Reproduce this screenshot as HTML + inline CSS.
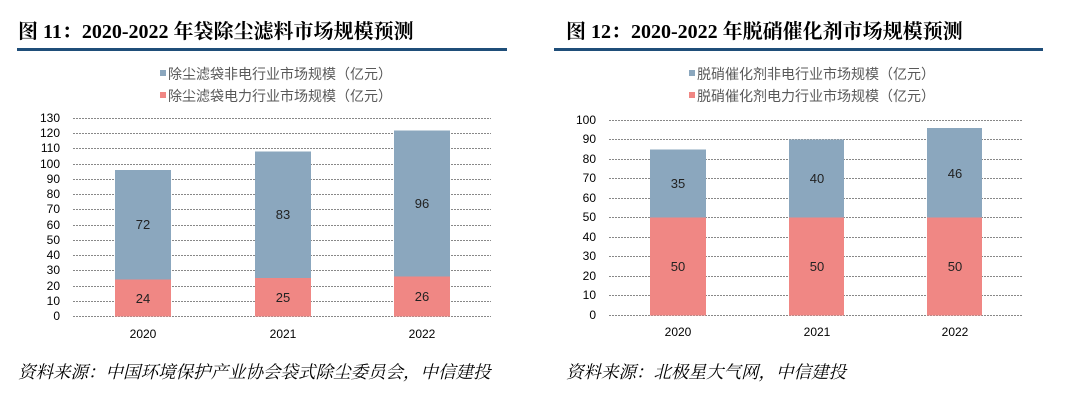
<!DOCTYPE html>
<html><head><meta charset="utf-8"><style>
body{margin:0;background:#fff;width:1080px;height:400px;overflow:hidden}
svg{display:block}
.t{font-family:"Liberation Serif","Noto Serif CJK SC",serif;font-weight:bold;font-size:20px;fill:#000}
.lg{font-family:"Liberation Sans","Noto Sans CJK SC",sans-serif;font-size:14px;fill:#595959}
.ax{font-family:"Liberation Sans","Noto Sans CJK SC",sans-serif;font-size:12px;fill:#000}
.dl{font-family:"Liberation Sans","Noto Sans CJK SC",sans-serif;font-size:13px;fill:#222}
.src{font-family:"Liberation Serif","Noto Serif CJK SC",serif;font-style:italic;font-size:17.5px;fill:#000}
.g{stroke:#888;stroke-width:1;stroke-dasharray:2,1}
</style></head><body>
<svg width="1080" height="400" xmlns="http://www.w3.org/2000/svg">
<!-- LEFT -->
<text class="t" x="18" y="38">图 11：2020-2022 年袋除尘滤料市场规模预测</text>
<rect x="17" y="48" width="490" height="3" fill="#1f4e79"/>
<rect x="160" y="70" width="6" height="6" fill="#8BA7BE"/>
<text class="lg" x="168" y="79">除尘滤袋非电行业市场规模（亿元）</text>
<rect x="160" y="92" width="6" height="6" fill="#F08784"/>
<text class="lg" x="168" y="101">除尘滤袋电力行业市场规模（亿元）</text>
<g class="g">
<line x1="73" x2="491" y1="118.5" y2="118.5"/><line x1="73" x2="491" y1="133.5" y2="133.5"/><line x1="73" x2="491" y1="148.5" y2="148.5"/><line x1="73" x2="491" y1="164.5" y2="164.5"/><line x1="73" x2="491" y1="179.5" y2="179.5"/><line x1="73" x2="491" y1="194.5" y2="194.5"/><line x1="73" x2="491" y1="209.5" y2="209.5"/><line x1="73" x2="491" y1="225.5" y2="225.5"/><line x1="73" x2="491" y1="240.5" y2="240.5"/><line x1="73" x2="491" y1="255.5" y2="255.5"/><line x1="73" x2="491" y1="270.5" y2="270.5"/><line x1="73" x2="491" y1="286.5" y2="286.5"/><line x1="73" x2="491" y1="301.5" y2="301.5"/><line x1="73" x2="491" y1="316.5" y2="316.5"/>
</g>
<g class="ax" text-anchor="end">
<text x="60" y="122">130</text><text x="60" y="137">120</text><text x="60" y="152">110</text><text x="60" y="168">100</text><text x="60" y="183">90</text><text x="60" y="198">80</text><text x="60" y="213">70</text><text x="60" y="229">60</text><text x="60" y="244">50</text><text x="60" y="259">40</text><text x="60" y="274">30</text><text x="60" y="290">20</text><text x="60" y="305">10</text><text x="60" y="320">0</text>
</g>
<rect x="115" y="170" width="56" height="110" fill="#8BA7BE"/><rect x="115" y="279.5" width="56" height="37" fill="#F08784"/>
<rect x="255" y="151.5" width="56" height="127" fill="#8BA7BE"/><rect x="255" y="278" width="56" height="38.5" fill="#F08784"/>
<rect x="394" y="130.5" width="56" height="146" fill="#8BA7BE"/><rect x="394" y="276.5" width="56" height="40" fill="#F08784"/>
<g class="dl" text-anchor="middle">
<text x="143" y="229">72</text><text x="143" y="303">24</text>
<text x="283" y="219">83</text><text x="283" y="302">25</text>
<text x="422" y="208">96</text><text x="422" y="301">26</text>
</g>
<g class="ax" text-anchor="middle"><text x="143" y="338">2020</text><text x="283" y="338">2021</text><text x="422" y="338">2022</text></g>
<text class="src" x="18" y="378">资料来源：中国环境保护产业协会袋式除尘委员会，中信建投</text>

<!-- RIGHT -->
<text class="t" x="566" y="38">图 12：2020-2022 年脱硝催化剂市场规模预测</text>
<rect x="554" y="48" width="489" height="3" fill="#1f4e79"/>
<rect x="689" y="70" width="6" height="6" fill="#8BA7BE"/>
<text class="lg" x="697" y="79">脱硝催化剂非电行业市场规模（亿元）</text>
<rect x="689" y="92" width="6" height="6" fill="#F08784"/>
<text class="lg" x="697" y="101">脱硝催化剂电力行业市场规模（亿元）</text>
<g class="g">
<line x1="609" x2="1022" y1="120.5" y2="120.5"/><line x1="609" x2="1022" y1="139.5" y2="139.5"/><line x1="609" x2="1022" y1="159.5" y2="159.5"/><line x1="609" x2="1022" y1="178.5" y2="178.5"/><line x1="609" x2="1022" y1="198.5" y2="198.5"/><line x1="609" x2="1022" y1="217.5" y2="217.5"/><line x1="609" x2="1022" y1="237.5" y2="237.5"/><line x1="609" x2="1022" y1="256.5" y2="256.5"/><line x1="609" x2="1022" y1="276.5" y2="276.5"/><line x1="609" x2="1022" y1="295.5" y2="295.5"/><line x1="609" x2="1022" y1="315.5" y2="315.5"/>
</g>
<g class="ax" text-anchor="end">
<text x="596" y="124">100</text><text x="596" y="143">90</text><text x="596" y="163">80</text><text x="596" y="182">70</text><text x="596" y="202">60</text><text x="596" y="221">50</text><text x="596" y="241">40</text><text x="596" y="260">30</text><text x="596" y="280">20</text><text x="596" y="299">10</text><text x="596" y="319">0</text>
</g>
<rect x="650" y="149.5" width="56" height="68.5" fill="#8BA7BE"/><rect x="650" y="217.5" width="56" height="98" fill="#F08784"/>
<rect x="789" y="139.5" width="55" height="78.5" fill="#8BA7BE"/><rect x="789" y="217.5" width="55" height="98" fill="#F08784"/>
<rect x="927" y="128" width="55" height="90" fill="#8BA7BE"/><rect x="927" y="217.5" width="55" height="98" fill="#F08784"/>
<g class="dl" text-anchor="middle">
<text x="678" y="188">35</text><text x="678" y="271">50</text>
<text x="817" y="183">40</text><text x="817" y="271">50</text>
<text x="955" y="178">46</text><text x="955" y="271">50</text>
</g>
<g class="ax" text-anchor="middle"><text x="678" y="336">2020</text><text x="817" y="336">2021</text><text x="955" y="336">2022</text></g>
<text class="src" x="566" y="378">资料来源：北极星大气网，中信建投</text>
</svg>
</body></html>
